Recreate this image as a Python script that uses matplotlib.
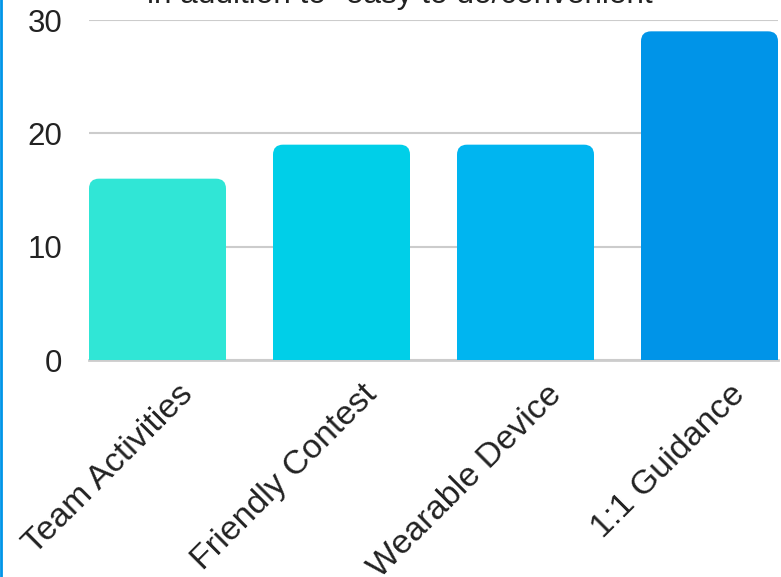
import matplotlib
matplotlib.use("Agg")
import matplotlib.pyplot as plt
from matplotlib.patches import FancyBboxPatch
from matplotlib.lines import Line2D
import matplotlib.transforms as mtransforms
import numpy as np

categories = ["Team Activities", "Friendly Contest", "Wearable Device", "1:1 Guidance"]
values = [16, 19, 19, 29]
colors = ["#30E6D6", "#00CFE8", "#00B5F0", "#0094E8"]
yticks = [0, 10, 20, 30]
title = 'in addition to "easy to do/convenient"'

plt.rcParams['font.family'] = ['Liberation Sans', 'DejaVu Sans']

W, H = 781, 577
fig = plt.figure(figsize=(W / 100, H / 100), dpi=100)
ax = fig.add_axes([89 / W, 1 - 360 / H, (778 - 89) / W, (360 - 20) / H])

x = np.arange(len(categories))
bw = 137 / 184
ax.set_xlim(-bw / 2, len(categories) - 1 + bw / 2)
ax.set_ylim(0, 30)

# rounding radius in pixels -> data units
r_px = 10
rx = r_px / 184
ry = r_px / (340 / 30)
for xi, v, c in zip(x, values, colors):
    ax.bar(xi, v - ry, width=bw, color=c, zorder=3)
    p = FancyBboxPatch((xi - bw / 2, 0), bw, v,
                       boxstyle=f"round,pad=0,rounding_size={rx}",
                       mutation_aspect=ry / rx, facecolor=c, edgecolor="none", zorder=3)
    ax.add_patch(p)

ax.set_yticks(yticks)
ax.set_yticklabels([str(t) for t in yticks], fontsize=22.5, color="#222222")
ax.grid(axis="y", color="#cccccc", linewidth=1.5, zorder=0)
ax.set_axisbelow(True)
for s in ["top", "right", "left"]:
    ax.spines[s].set_visible(False)
ax.spines["bottom"].set_color("#cccccc")
ax.spines["bottom"].set_linewidth(2)
ax.tick_params(axis="y", length=0, pad=19)
ax.tick_params(axis="x", length=0)

ax.set_xticks(x)
ax.set_xticklabels(categories, fontsize=24.5, color="#222222", rotation=45,
                   rotation_mode="anchor", ha="right", va="center")
offset = mtransforms.ScaledTranslation(31 / 100, -25 / 100, fig.dpi_scale_trans)
for lbl in ax.get_xticklabels():
    lbl.set_transform(lbl.get_transform() + offset)

fig.text(405 / W, 1 - 3 / H, title, ha="center", va="baseline", fontsize=22.7, color="#222222")

fig.add_artist(Line2D([1 / W, 1 / W], [0, 1], transform=fig.transFigure, color="#0095E8", linewidth=2))

fig.savefig("out.png", dpi=100)
